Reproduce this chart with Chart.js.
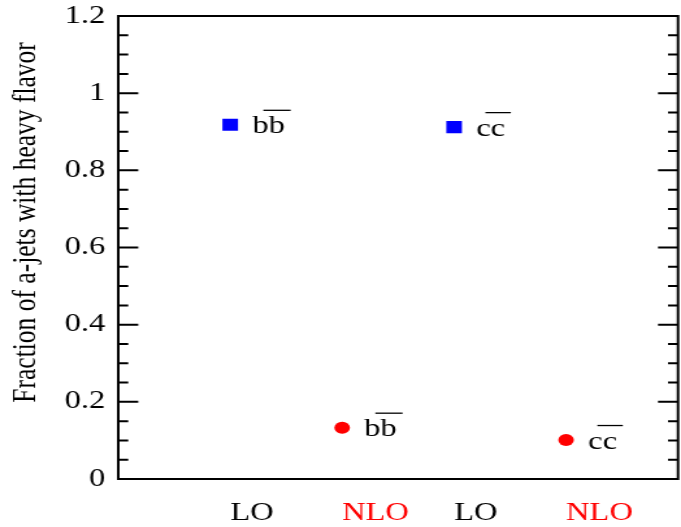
<!DOCTYPE html>
<html>
<head>
<meta charset="utf-8">
<script src="https://cdn.jsdelivr.net/npm/chart.js@4.4.1/dist/chart.umd.min.js"></script>
<style>
  html, body { margin: 0; padding: 0; background: #fff; overflow: hidden; }
  /* the source figure is stretched sideways, so draw narrow and widen */
  #wrap { width: 524px; height: 527px; transform: scaleX(1.2996); transform-origin: 0 0; }
</style>
</head>
<body>
<div id="wrap"><canvas id="chartFrac" width="524" height="527"></canvas></div>
<script>
// ── data ──────────────────────────────
const categories = ["LO", "NLO", "LO", "NLO"];
const flavors    = ["bb", "bb", "cc", "cc"];
const fractions  = [0.918, 0.133, 0.912, 0.101];
const catColors  = ["#000000", "#ff0000", "#000000", "#ff0000"];
const yTicks     = [0, 0.2, 0.4, 0.6, 0.8, 1.0, 1.2];
const yTitle     = "Fraction of a-jets with heavy flavor";

const SERIF = "'Liberation Serif', 'Times New Roman', serif";

function pointsFor(cat) {
  const out = [];
  categories.forEach((c, i) => { if (c === cat) out.push({ x: i + 1, y: fractions[i] }); });
  return out;
}

// no extra room for overhanging end labels
function noPad(s) {
  s.paddingTop = 0; s.paddingBottom = 0;
  s.paddingLeft = 0; s.paddingRight = 0;
}

// frame + inward ticks on left and right
const framePlugin = {
  id: "frame",
  afterDraw(chart) {
    const { ctx, chartArea: a, scales: { y } } = chart;
    ctx.save();
    ctx.strokeStyle = "#000";
    ctx.lineWidth = 2;
    ctx.strokeRect(a.left, a.top, a.right - a.left, a.bottom - a.top);

    const marks = [];
    for (let i = 0; i < yTicks.length; i++) {
      marks.push({ v: yTicks[i], len: 15.4 });
      if (i < yTicks.length - 1) {
        const step = (yTicks[i + 1] - yTicks[i]) / 4;
        for (let k = 1; k < 4; k++) marks.push({ v: yTicks[i] + k * step, len: 7.7 });
      }
    }
    ctx.beginPath();
    marks.forEach(({ v, len }) => {
      const py = y.getPixelForValue(v);
      ctx.moveTo(a.left, py);  ctx.lineTo(a.left + len, py);
      ctx.moveTo(a.right, py); ctx.lineTo(a.right - len, py);
    });
    ctx.stroke();

    // y title
    const midY = y.getPixelForValue(0.665);
    ctx.translate(27, midY);
    ctx.rotate(-Math.PI / 2);
    ctx.fillStyle = "#000";
    ctx.font = "25.5px " + SERIF;
    ctx.textAlign = "center";
    ctx.textBaseline = "alphabetic";
    ctx.fillText(yTitle, 0, 0);
    ctx.restore();
  }
};

// "bb̄" / "cc̄" labels next to each point
const flavorPlugin = {
  id: "flavor",
  afterDatasetsDraw(chart) {
    const { ctx, scales: { x, y } } = chart;
    ctx.save();
    ctx.font = "25px " + SERIF;
    ctx.fillStyle = "#000";
    ctx.strokeStyle = "#000";
    ctx.lineWidth = 1.3;
    ctx.textAlign = "left";
    ctx.textBaseline = "alphabetic";
    flavors.forEach((f, i) => {
      const px = x.getPixelForValue(i + 1) + 17;
      const py = y.getPixelForValue(fractions[i]) + 8.5;
      ctx.fillText(f, px, py);
      const w1 = ctx.measureText(f[0]).width;
      const wAll = ctx.measureText(f).width;
      ctx.beginPath();
      ctx.moveTo(px + w1 - 4, py - 23);
      ctx.lineTo(px + wAll + 4.5, py - 23);
      ctx.stroke();
    });
    ctx.restore();
  }
};

new Chart(document.getElementById("chartFrac"), {
  type: "scatter",
  data: {
    datasets: [
      {
        label: "LO",
        data: pointsFor("LO"),
        pointStyle: "rect",
        pointRadius: 8.5,
        backgroundColor: "#0000ff",
        borderWidth: 0
      },
      {
        label: "NLO",
        data: pointsFor("NLO"),
        pointStyle: "circle",
        pointRadius: 6,
        backgroundColor: "#ff0000",
        borderWidth: 0
      }
    ]
  },
  options: {
    responsive: false,
    animation: false,
    layout: { autoPadding: false, padding: { top: 16, right: 2.3, left: 0, bottom: 0 } },
    plugins: { legend: { display: false }, tooltip: { enabled: false } },
    scales: {
      x: {
        type: "linear",
        min: 0,
        max: 5,
        afterBuildTicks: s => { s.ticks = categories.map((c, i) => ({ value: i + 1 })); },
        afterFit: s => { s.height = 48; noPad(s); },
        grid: { display: false, drawTicks: false },
        border: { display: false },
        ticks: {
          align: "start",
          autoSkip: false,
          maxRotation: 0,
          padding: 19,
          font: { family: SERIF, size: 25 },
          color: c => catColors[c.index] || "#000",
          callback: v => categories[v - 1] ?? ""
        }
      },
      y: {
        min: 0,
        max: 1.2,
        afterBuildTicks: s => { s.ticks = yTicks.map(v => ({ value: v })); },
        afterFit: s => { s.width = 91; noPad(s); },
        grid: { display: false, drawTicks: false },
        border: { display: false },
        ticks: {
          padding: 10,
          font: { family: SERIF, size: 25 },
          color: "#000",
          callback: v => String(Math.round(v * 10) / 10)
        }
      }
    }
  },
  plugins: [framePlugin, flavorPlugin]
});
</script>
</body>
</html>
